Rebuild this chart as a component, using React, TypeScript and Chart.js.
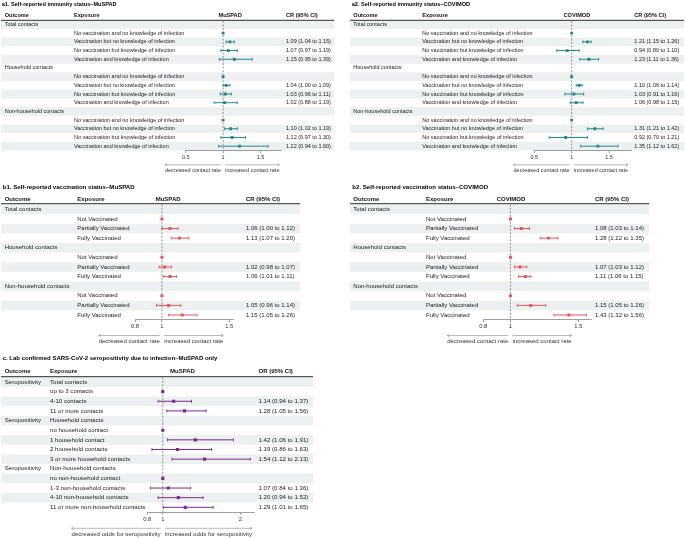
import React, { useEffect, useRef } from "react";
import { Chart, registerables } from "chart.js";

Chart.register(...registerables);

const W = 685;
const H = 538;
const FONT = "'Liberation Sans', Arial, Helvetica, sans-serif";
const STRIPE = "#edf0f0";

// ---------- data ----------
const contactGroups = ["Total contacts", "Household contacts", "Non-household contacts"];
const immunityExposures = [
  "No vaccination and no knowledge of infection",
  "Vaccination but no knowledge of infection",
  "No vaccination but knowledge of infection",
  "Vaccination and knowledge of infection",
];
const vaccinationExposures = ["Not Vaccinated", "Partially Vaccinated", "Fully Vaccinated"];

const a1Est = [1, 1.09, 1.07, 1.15, 1, 1.04, 1.03, 1.02, 1, 1.1, 1.12, 1.22];
const a1Lo = [null, 1.04, 0.97, 0.95, null, 1.0, 0.96, 0.88, null, 1.02, 0.97, 0.94];
const a1Hi = [null, 1.15, 1.19, 1.39, null, 1.09, 1.11, 1.19, null, 1.19, 1.3, 1.6];

const a2Est = [1, 1.21, 0.94, 1.23, 1, 1.1, 1.03, 1.06, 1, 1.31, 0.92, 1.35];
const a2Lo = [null, 1.15, 0.8, 1.11, null, 1.06, 0.91, 0.98, null, 1.21, 0.7, 1.12];
const a2Hi = [null, 1.26, 1.1, 1.36, null, 1.14, 1.16, 1.15, null, 1.42, 1.21, 1.62];

const b1Est = [1, 1.06, 1.13, 1, 1.02, 1.06, 1, 1.05, 1.15];
const b1Lo = [null, 1.0, 1.07, null, 0.98, 1.01, null, 0.96, 1.05];
const b1Hi = [null, 1.12, 1.2, null, 1.07, 1.11, null, 1.14, 1.26];

const b2Est = [1, 1.08, 1.28, 1, 1.07, 1.11, 1, 1.15, 1.43];
const b2Lo = [null, 1.03, 1.22, null, 1.03, 1.06, null, 1.05, 1.32];
const b2Hi = [null, 1.14, 1.35, null, 1.12, 1.15, null, 1.26, 1.56];

const seroOutcome = "Seropositivity";
const seroTotalExposures = ["up to 3 contacts", "4-10 contacts", "11 or more contacts"];
const seroHouseholdExposures = [
  "no household contact",
  "1 household contact",
  "2 household contacts",
  "3 or more household contacts",
];
const seroNonHouseholdExposures = [
  "no non-household contact",
  "1-3 non-household contacts",
  "4-10 non-household contacts",
  "11 or more non-household contacts",
];
const cEst = [1, 1.14, 1.28, 1, 1.42, 1.19, 1.54, 1, 1.07, 1.2, 1.29];
const cLo = [null, 0.94, 1.05, null, 1.06, 0.86, 1.12, null, 0.84, 0.94, 1.01];
const cHi = [null, 1.37, 1.56, null, 1.91, 1.63, 2.13, null, 1.36, 1.52, 1.65];

const aTicks = [0.5, 1, 1.5];
const bTicks = [0.8, 1, 1.5];
const cTicks = [0.8, 1, 2];

// ---------- row building ----------
type Row = { outcome: string; exposure: string; est: number | null; lo: number | null; hi: number | null };

function buildRows(
  headOutcome: (g: string) => string,
  headExposure: (g: string) => string,
  groups: string[],
  exposures: string[][],
  est: (number | null)[],
  lo: (number | null)[],
  hi: (number | null)[]
): Row[] {
  const rows: Row[] = [];
  let k = 0;
  groups.forEach((g, gi) => {
    rows.push({ outcome: headOutcome(g), exposure: headExposure(g), est: null, lo: null, hi: null });
    exposures[gi].forEach((e) => {
      rows.push({ outcome: "", exposure: e, est: est[k], lo: lo[k], hi: hi[k] });
      k++;
    });
  });
  return rows;
}

const groupHead = (g: string) => g;
const empty = () => "";
const rowsA1 = buildRows(groupHead, empty, contactGroups, [immunityExposures, immunityExposures, immunityExposures], a1Est, a1Lo, a1Hi);
const rowsA2 = buildRows(groupHead, empty, contactGroups, [immunityExposures, immunityExposures, immunityExposures], a2Est, a2Lo, a2Hi);
const rowsB1 = buildRows(groupHead, empty, contactGroups, [vaccinationExposures, vaccinationExposures, vaccinationExposures], b1Est, b1Lo, b1Hi);
const rowsB2 = buildRows(groupHead, empty, contactGroups, [vaccinationExposures, vaccinationExposures, vaccinationExposures], b2Est, b2Lo, b2Hi);
const rowsC = buildRows(() => seroOutcome, groupHead, contactGroups, [seroTotalExposures, seroHouseholdExposures, seroNonHouseholdExposures], cEst, cLo, cHi);

const fmt = (v: number) => v.toFixed(2);

type Panel = {
  title: string;
  forestHeader: string;
  ciHeader: string;
  rows: Row[];
  color: string;
  ticks: number[];
  xMin: number;
  xMax: number;
  plotL: number;
  plotR: number;
  row0Y: number;
  rowH: number;
  titleX: number;
  titleY: number;
  headerY: number;
  headerLineY: number;
  stripeL: number;
  stripeR: number;
  outcomeX: number;
  exposureX: number;
  forestHeaderX: number;
  ciX: number;
  fs: number;
  headFs: number;
  titleFs: number;
  tickFs: number;
  arrowY: number;
  arrowTextY: number;
  leftText: string;
  rightText: string;
  markerR: number;
};

const TEAL = "#23878a";
const RED = "#e8535b";
const PURPLE = "#7b2a8d";

const panels: Panel[] = [
  {
    title: "a1. Self-reported immunity status\u2013MuSPAD",
    forestHeader: "MuSPAD",
    ciHeader: "CR (95% CI)",
    rows: rowsA1,
    color: TEAL,
    ticks: aTicks,
    xMin: 0.5,
    xMax: 1.78,
    plotL: 185.7,
    plotR: 281.5,
    row0Y: 24.5,
    rowH: 8.69,
    titleX: 1.7,
    titleY: 4.8,
    headerY: 15,
    headerLineY: 20.4,
    stripeL: 1,
    stripeR: 334,
    outcomeX: 4.7,
    exposureX: 74,
    forestHeaderX: 218.5,
    ciX: 286,
    fs: 5.5,
    headFs: 5.6,
    titleFs: 5.6,
    tickFs: 5.5,
    arrowY: 164.8,
    arrowTextY: 170.7,
    leftText: "decreased contact rate",
    rightText: "increased contact rate",
    markerR: 2.0,
  },
  {
    title: "a2. Self-reported immunity status\u2013COVIMOD",
    forestHeader: "COVIMOD",
    ciHeader: "CR (95% CI)",
    rows: rowsA2,
    color: TEAL,
    ticks: aTicks,
    xMin: 0.5,
    xMax: 1.8,
    plotL: 534.3,
    plotR: 631.5,
    row0Y: 24.5,
    rowH: 8.69,
    titleX: 351.7,
    titleY: 4.8,
    headerY: 15,
    headerLineY: 20.4,
    stripeL: 350,
    stripeR: 684,
    outcomeX: 353.3,
    exposureX: 422.3,
    forestHeaderX: 563.5,
    ciX: 634.3,
    fs: 5.5,
    headFs: 5.6,
    titleFs: 5.6,
    tickFs: 5.5,
    arrowY: 164.8,
    arrowTextY: 170.7,
    leftText: "decreased contact rate",
    rightText: "increased contact rate",
    markerR: 2.0,
  },
  {
    title: "b1. Self-reported vaccination status\u2013MuSPAD",
    forestHeader: "MuSPAD",
    ciHeader: "CR (95% CI)",
    rows: rowsB1,
    color: RED,
    ticks: bTicks,
    xMin: 0.8,
    xMax: 1.53,
    plotL: 135,
    plotR: 233.3,
    row0Y: 209.3,
    rowH: 9.61,
    titleX: 2.7,
    titleY: 187.2,
    headerY: 199,
    headerLineY: 203.7,
    stripeL: 1,
    stripeR: 300,
    outcomeX: 4.7,
    exposureX: 77.3,
    forestHeaderX: 155.7,
    ciX: 246,
    fs: 6,
    headFs: 6,
    titleFs: 6.1,
    tickFs: 5.8,
    arrowY: 335.5,
    arrowTextY: 341.7,
    leftText: "decreased contact rate",
    rightText: "increased contact rate",
    markerR: 2.1,
  },
  {
    title: "b2. Self-reported vaccination status\u2013COVIMOD",
    forestHeader: "COVIMOD",
    ciHeader: "CR (95% CI)",
    rows: rowsB2,
    color: RED,
    ticks: bTicks,
    xMin: 0.8,
    xMax: 1.6,
    plotL: 483.3,
    plotR: 591.9,
    row0Y: 209.3,
    rowH: 9.61,
    titleX: 352.3,
    titleY: 187.2,
    headerY: 199,
    headerLineY: 203.7,
    stripeL: 350,
    stripeR: 649,
    outcomeX: 353.3,
    exposureX: 426,
    forestHeaderX: 496.7,
    ciX: 595,
    fs: 6,
    headFs: 6,
    titleFs: 6.1,
    tickFs: 5.8,
    arrowY: 335.5,
    arrowTextY: 341.7,
    leftText: "decreased contact rate",
    rightText: "increased contact rate",
    markerR: 2.1,
  },
  {
    title: "c. Lab confirmed SARS-CoV-2 seropositivity due to infection\u2013MuSPAD only",
    forestHeader: "MuSPAD",
    ciHeader: "OR (95% CI)",
    rows: rowsC,
    color: PURPLE,
    ticks: cTicks,
    xMin: 0.8,
    xMax: 2.18,
    plotL: 147.3,
    plotR: 254.2,
    row0Y: 382,
    rowH: 9.64,
    titleX: 2.7,
    titleY: 358.3,
    headerY: 371.7,
    headerLineY: 376.7,
    stripeL: 1,
    stripeR: 313,
    outcomeX: 4.7,
    exposureX: 50,
    forestHeaderX: 170,
    ciX: 258.5,
    fs: 6.1,
    headFs: 6,
    titleFs: 6,
    tickFs: 5.8,
    arrowY: 528.3,
    arrowTextY: 534.3,
    leftText: "decreased odds for seropositivity",
    rightText: "increased odds for seropositivity",
    markerR: 2.2,
  },
];

function tablePlugin(p: Panel) {
  return {
    id: "forestTable",
    beforeDraw(chart: any) {
      const ctx: CanvasRenderingContext2D = chart.ctx;
      const ys = chart.scales.y;
      const xs = chart.scales.x;
      ctx.save();
      // stripes
      ctx.fillStyle = STRIPE;
      p.rows.forEach((_r, i) => {
        if (i % 2 === 0) {
          const cy = ys.getPixelForValue(i);
          ctx.fillRect(p.stripeL, cy - p.rowH / 2, p.stripeR - p.stripeL, p.rowH);
        }
      });
      // header line
      ctx.strokeStyle = "#555";
      ctx.lineWidth = 1.2;
      ctx.beginPath();
      ctx.moveTo(p.stripeL, p.headerLineY);
      ctx.lineTo(p.stripeR, p.headerLineY);
      ctx.stroke();
      // title
      ctx.textBaseline = "middle";
      ctx.textAlign = "left";
      ctx.fillStyle = "#000";
      ctx.font = `bold ${p.titleFs}px ${FONT}`;
      ctx.fillText(p.title, p.titleX, p.titleY);
      // headers
      ctx.font = `bold ${p.headFs}px ${FONT}`;
      ctx.fillStyle = "#111";
      ctx.fillText("Outcome", p.outcomeX, p.headerY);
      ctx.fillText("Exposure", p.exposureX, p.headerY);
      ctx.fillText(p.forestHeader, p.forestHeaderX, p.headerY);
      ctx.fillText(p.ciHeader, p.ciX, p.headerY);
      // rows
      ctx.font = `${p.fs}px ${FONT}`;
      ctx.fillStyle = "#222";
      p.rows.forEach((r, i) => {
        const cy = ys.getPixelForValue(i);
        if (r.outcome) ctx.fillText(r.outcome, p.outcomeX, cy);
        if (r.exposure) ctx.fillText(r.exposure, p.exposureX, cy);
        if (r.est != null && r.lo != null && r.hi != null) {
          ctx.fillText(`${fmt(r.est)} (${fmt(r.lo)} to ${fmt(r.hi)})`, p.ciX, cy);
        }
      });
      // reference dashed line
      const x1 = xs.getPixelForValue(1);
      ctx.setLineDash([2, 1.5]);
      ctx.strokeStyle = "#777";
      ctx.lineWidth = 0.8;
      ctx.beginPath();
      ctx.moveTo(x1, p.headerLineY + 0.6);
      ctx.lineTo(x1, chart.chartArea.bottom);
      ctx.stroke();
      ctx.restore();
    },
    afterDraw(chart: any) {
      const ctx: CanvasRenderingContext2D = chart.ctx;
      const xs = chart.scales.x;
      const x1 = xs.getPixelForValue(1);
      ctx.save();
      ctx.font = `${p.fs}px ${FONT}`;
      const wl = ctx.measureText(p.leftText).width;
      const wr = ctx.measureText(p.rightText).width;
      const gap = 2.2;
      const lx0 = x1 - gap - wl;
      const lx1 = x1 - gap;
      const rx0 = x1 + gap;
      const rx1 = x1 + gap + wr;
      const y = p.arrowY;
      ctx.strokeStyle = "#888";
      ctx.lineWidth = 0.6;
      ctx.beginPath();
      ctx.moveTo(lx0, y);
      ctx.lineTo(lx1, y);
      ctx.moveTo(lx0 + 2, y - 1.2);
      ctx.lineTo(lx0, y);
      ctx.lineTo(lx0 + 2, y + 1.2);
      ctx.moveTo(rx0, y);
      ctx.lineTo(rx1, y);
      ctx.moveTo(rx1 - 2, y - 1.2);
      ctx.lineTo(rx1, y);
      ctx.lineTo(rx1 - 2, y + 1.2);
      ctx.stroke();
      ctx.fillStyle = "#333";
      ctx.textBaseline = "middle";
      ctx.textAlign = "right";
      ctx.fillText(p.leftText, lx1, p.arrowTextY);
      ctx.textAlign = "left";
      ctx.fillText(p.rightText, rx0, p.arrowTextY);
      ctx.restore();
    },
  };
}

function ForestPanel({ p }: { p: Panel }) {
  const ref = useRef<HTMLCanvasElement>(null);
  useEffect(() => {
    const canvas = ref.current;
    if (!canvas) return;
    const N = p.rows.length;
    const top = p.row0Y - p.rowH / 2;
    const bottom = p.row0Y + (N - 0.5) * p.rowH;
    const pointData = p.rows.map((r, i) => (r.est == null ? { x: null, y: null } : { x: r.est, y: i }));
    const ciData: any[] = [];
    const capData: any[] = [];
    p.rows.forEach((r, i) => {
      if (r.lo != null && r.hi != null) {
        ciData.push({ x: r.lo, y: i }, { x: r.hi, y: i }, { x: null, y: null });
        capData.push({ x: r.lo, y: i }, { x: r.hi, y: i });
      }
    });
    const chart = new Chart(canvas, {
      type: "scatter",
      data: {
        datasets: [
          {
            data: pointData as any,
            pointStyle: "rect",
            pointRadius: p.markerR,
            backgroundColor: p.color,
            borderColor: p.color,
            borderWidth: 0,
            order: 0,
          } as any,
          {
            data: capData,
            pointStyle: "line",
            rotation: 90,
            pointRadius: 1.5,
            borderColor: p.color,
            backgroundColor: p.color,
            borderWidth: 0.9,
            order: 1,
          } as any,
          {
            data: ciData,
            showLine: true,
            spanGaps: false,
            pointRadius: 0,
            borderColor: p.color,
            backgroundColor: p.color,
            borderWidth: 1,
            order: 2,
          } as any,
        ],
      },
      options: {
        animation: false,
        responsive: false,
        devicePixelRatio: 1,
        events: [],
        layout: { padding: { left: p.plotL, right: W - p.plotR, top, bottom: 0 } },
        plugins: {
          legend: { display: false },
          tooltip: { enabled: false },
          title: { display: false },
        },
        scales: {
          x: {
            type: "linear",
            position: "bottom",
            min: p.xMin,
            max: p.xMax,
            afterFit: (s: any) => {
              s.height = H - bottom;
            },
            afterBuildTicks: (s: any) => {
              s.ticks = p.ticks.map((v) => ({ value: v }));
            },
            ticks: {
              callback: (v: any) => String(v),
              font: { family: FONT, size: p.tickFs },
              color: "#333",
              padding: 1,
              maxRotation: 0,
              autoSkip: false,
            },
            grid: {
              display: true,
              drawOnChartArea: false,
              drawTicks: true,
              tickLength: 2.5,
              color: "#777",
              lineWidth: 0.7,
            },
            border: { display: true, color: "#777", width: 0.7 },
          },
          y: {
            type: "linear",
            min: -0.5,
            max: N - 0.5,
            reverse: true,
            display: false,
          },
        },
      } as any,
      plugins: [tablePlugin(p)],
    });
    return () => chart.destroy();
  }, [p]);
  return (
    <canvas
      ref={ref}
      width={W}
      height={H}
      style={{ position: "absolute", left: 0, top: 0, width: W, height: H }}
    />
  );
}

export default function App() {
  return (
    <div style={{ position: "absolute", left: 0, top: 0, width: W, height: H, background: "#fff", overflow: "hidden" }}>
      {panels.map((p, i) => (
        <ForestPanel key={i} p={p} />
      ))}
    </div>
  );
}
